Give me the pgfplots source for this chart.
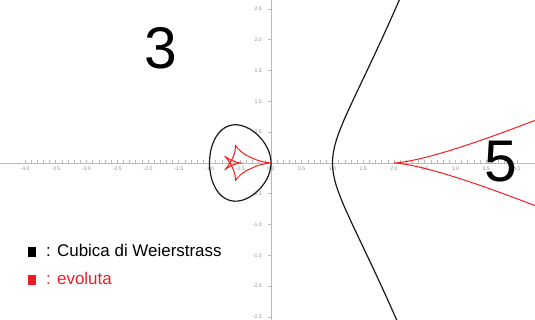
\documentclass[border=0pt]{standalone}
\usepackage{pgfplots}
\pgfplotsset{compat=1.18}
\usepackage{fontspec}
\setmainfont{Liberation Sans}
\definecolor{tickgray}{RGB}{140,140,140}
\definecolor{axisgray}{RGB}{185,185,185}
\definecolor{curvered}{RGB}{245,30,30}
\definecolor{legred}{RGB}{237,28,36}

\begin{document}
\begin{tikzpicture}
\begin{axis}[
  name=ax,
  scale only axis, width=535bp, height=320bp,
  xmin=-4.407, xmax=4.293, ymin=-2.549, ymax=2.646,
  axis lines=middle,
  axis line style={axisgray, line width=0.8bp, -},
  xtick={-4,-3.5,-3,-2.5,-2,-1.5,-1,-0.5,0,0.5,1,1.5,2,2.5,3,3.5,4},
  ytick={-2.5,-2,-1.5,-1,-0.5,0.5,1,1.5,2,2.5},
  hide obscured x ticks=false,
  minor tick num=4,
  tick style={axisgray, line width=0.6bp},
  major tick length=3bp, minor tick length=3bp,
  xtick align=inside, ytick align=outside,
  ticklabel style={font=\fontsize{5.2}{5.2}\selectfont, text=tickgray, inner sep=0pt},
  xticklabel style={anchor=north, yshift=-4bp},
  yticklabel style={anchor=east, xshift=-6bp},
  /pgf/number format/.cd, fixed, fixed zerofill, precision=1, assume math mode=true,
  /pgfplots/.cd,
  clip=true,
]
% Weierstrass cubic y^2 = x^3 - x : closed oval on [-1,0]
\addplot[black!90, line width=1.2bp, smooth, tension=0.4] coordinates {
(-1,0) (-0.999,0.04469) (-0.995,0.09962) (-0.98,0.19700) (-0.96,0.27434)
(-0.94,0.33078) (-0.9,0.41352) (-0.85,0.48567) (-0.8,0.53666) (-0.75,0.57282)
(-0.7,0.59750) (-0.65,0.61268) (-0.6,0.61968) (-0.55,0.61937) (-0.5,0.61237)
(-0.45,0.59906) (-0.4,0.57966) (-0.35,0.55419) (-0.3,0.52249) (-0.25,0.48412)
(-0.2,0.43818) (-0.15,0.38292) (-0.1,0.31464) (-0.06,0.24451) (-0.03,0.17313)
(-0.01,0.09999) (-0.002,0.04472) (0,0)
(-0.002,-0.04472) (-0.01,-0.09999) (-0.03,-0.17313) (-0.06,-0.24451) (-0.1,-0.31464)
(-0.15,-0.38292) (-0.2,-0.43818) (-0.25,-0.48412) (-0.3,-0.52249) (-0.35,-0.55419)
(-0.4,-0.57966) (-0.45,-0.59906) (-0.5,-0.61237) (-0.55,-0.61937) (-0.6,-0.61968)
(-0.65,-0.61268) (-0.7,-0.59750) (-0.75,-0.57282) (-0.8,-0.53666) (-0.85,-0.48567)
(-0.9,-0.41352) (-0.94,-0.33078) (-0.96,-0.27434) (-0.98,-0.19700) (-0.995,-0.09962)
(-0.999,-0.04469) (-1,0)
};
% unbounded branch for x >= 1
\addplot[black!90, line width=1.2bp, smooth, tension=0.4] coordinates {
(2.15,-2.79077) (2.1,-2.67600) (2.0,-2.44949) (1.9,-2.22688) (1.8,-2.00798)
(1.7,-1.79249) (1.6,-1.57987) (1.5,-1.36931) (1.4,-1.15931) (1.3,-0.94710)
(1.2,-0.72664) (1.15,-0.60899) (1.1,-0.48062) (1.06,-0.36196) (1.03,-0.25045)
(1.01,-0.14248) (1.002,-0.06334) (1.0005,-0.03164) (1,0)
(1.0005,0.03164) (1.002,0.06334) (1.01,0.14248) (1.03,0.25045) (1.06,0.36196)
(1.1,0.48062) (1.15,0.60899) (1.2,0.72664) (1.3,0.94710) (1.4,1.15931)
(1.5,1.36931) (1.6,1.57987) (1.7,1.79249) (1.8,2.00798) (1.9,2.22688)
(2.0,2.44949) (2.1,2.67600) (2.15,2.79077)
};
% evolute of the oval
\addplot[curvered, line width=1bp] coordinates {
(0,0) (-0.0575,0.0054) (-0.1350,0.0204) (-0.2436,0.0525) (-0.3986,0.1236)
(-0.4928,0.1884) (-0.5454,0.2397) (-0.5709,0.2743) (-0.5797,0.2915) (-0.5802,0.2928)
(-0.5804,0.2935) (-0.5799,0.2914) (-0.5790,0.2866) (-0.5777,0.2748) (-0.5774,0.2622)
(-0.5845,0.1986) (-0.5991,0.1439) (-0.6229,0.0827) (-0.6667,0) (-0.6913,-0.0376)
(-0.7261,-0.0832) (-0.7494,-0.1090) (-0.7530,-0.1124) (-0.7489,-0.1090) (-0.7119,-0.0823)
(-0.6292,-0.0373) (-0.5569,-0.0106) (-0.5292,-0.0039) (-0.5,0)
(-0.5292,0.0039) (-0.5569,0.0106) (-0.6292,0.0373) (-0.7119,0.0823) (-0.7489,0.1090)
(-0.7530,0.1124) (-0.7494,0.1090) (-0.7261,0.0832) (-0.6913,0.0376) (-0.6667,0)
(-0.6229,-0.0827) (-0.5991,-0.1439) (-0.5845,-0.1986) (-0.5774,-0.2622) (-0.5777,-0.2748)
(-0.5790,-0.2866) (-0.5799,-0.2914) (-0.5804,-0.2935) (-0.5802,-0.2928) (-0.5797,-0.2915)
(-0.5709,-0.2743) (-0.5454,-0.2397) (-0.4928,-0.1884) (-0.3986,-0.1236) (-0.2436,-0.0525)
(-0.1350,-0.0204) (-0.0575,-0.0054) (0,0)
};
% evolute of the unbounded branch
\addplot[curvered, line width=1bp] coordinates {
(4.6081,0.8152) (4.3055,0.6970) (4.0254,0.5901) (3.7659,0.4937) (3.5253,0.4072)
(3.3020,0.3299) (3.0947,0.2611) (2.9021,0.2005) (2.7232,0.1477) (2.5568,0.1024)
(2.4021,0.0644) (2.2583,0.0340) (2.1245,0.0117) (2.0611,0.0041) (2,0)
(2.0611,-0.0041) (2.1245,-0.0117) (2.2583,-0.0340) (2.4021,-0.0644) (2.5568,-0.1024)
(2.7232,-0.1477) (2.9021,-0.2005) (3.0947,-0.2611) (3.3020,-0.3299) (3.5253,-0.4072)
(3.7659,-0.4937) (4.0254,-0.5901) (4.3055,-0.6970) (4.6081,-0.8152)
};
\end{axis}
% labels and key, placed from the top-left corner of the plot area
\node[anchor=center, inner sep=0pt, font=\fontsize{59}{59}\selectfont]
  at ([xshift=161bp, yshift=-48.5bp]ax.north west) {3};
\node[anchor=center, inner sep=0pt, font=\fontsize{59}{59}\selectfont]
  at ([xshift=501bp, yshift=-162bp]ax.north west) {5};
\node[anchor=base west, inner sep=0pt, font=\fontsize{17}{17}\selectfont]
  at ([xshift=27.3bp, yshift=-256.7bp]ax.north west)
  {\rule{8bp}{10bp}\hspace{10.7bp}: Cubica di Weierstrass};
\node[anchor=base west, inner sep=0pt, font=\fontsize{17}{17}\selectfont, text=legred]
  at ([xshift=27.3bp, yshift=-284.5bp]ax.north west)
  {\rule{8bp}{10bp}\hspace{10.7bp}: evoluta};
\pgfresetboundingbox
\path[use as bounding box] (ax.south west) rectangle (ax.north east);
\end{tikzpicture}
\end{document}
